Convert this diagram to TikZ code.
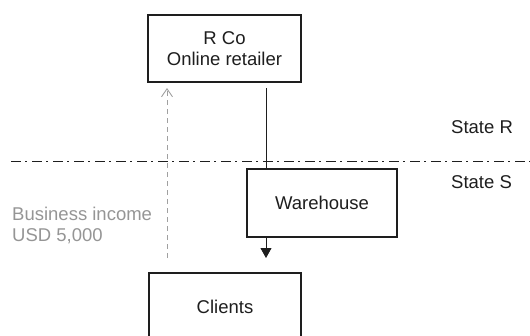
\documentclass[tikz,border=0pt]{standalone}
\usepackage{fontspec}
\setmainfont{Liberation Sans}
\usetikzlibrary{arrows.meta}
\definecolor{lightink}{HTML}{959595}
\definecolor{dashink}{HTML}{A0A0A0}
\definecolor{ink}{HTML}{1E1E1E}
\tikzset{
  party/.style={draw=ink, line width=1.3pt, fill=white, rectangle, align=center,
    font=\fontsize{18.5}{21}\selectfont, text=ink, inner sep=0pt},
  flow/.style={draw=ink, line width=0.9pt, -{Triangle[length=10pt,width=11pt]}},
  income/.style={draw=dashink, line width=0.9pt, dash pattern=on 5pt off 4pt,
    -{Straight Barb[length=8pt,width=11pt,line width=0.9pt]}},
  border/.style={draw=ink, line width=0.9pt, dash pattern=on 10pt off 4pt on 2pt off 5pt},
  label/.style={font=\fontsize{18.5}{21}\selectfont, inner sep=0pt},
}
\begin{document}
\begin{tikzpicture}[x=1pt,y=-1pt]
  \useasboundingbox (0,0) rectangle (530,335);
  \clip (0,0) rectangle (530,335);

  % jurisdictions split by the border line
  \coordinate (bl) at (11,161);
  \coordinate (br) at (530,161);
  \draw[border] (bl) -- (br);
  \node[label, text=ink, anchor=base west] (sr) at (451,133) {State R};
  \node[label, text=ink, anchor=base west] (ss) at (451,188) {State S};

  % parties
  \node[party, minimum width=153pt, minimum height=67pt] (rco) at (224.5,48.5)
    {R Co\\Online retailer};
  \node[party, minimum width=150pt, minimum height=68pt] (wh) at (322,203) {Warehouse};
  \node[party, minimum width=152pt, minimum height=68pt] (cl) at (225,307) {Clients};

  % goods shipped from the retailer through the warehouse to the clients
  \coordinate (g0) at (266,88);
  \coordinate (g1) at (266,258);
  \draw[draw=ink, line width=0.9pt] (g0) -- (g0 |- wh.north);
  \draw[flow] (g1 |- wh.south) -- (g1);

  % income flowing back to the retailer
  \coordinate (i0) at (167,258);
  \coordinate (i1) at (167,88);
  \draw[income] (i0) -- (i1);
  \node[label, text=lightink, align=left, anchor=base west] (inc) at (12,241)
    {Business income\\USD 5,000};
\end{tikzpicture}
\end{document}
